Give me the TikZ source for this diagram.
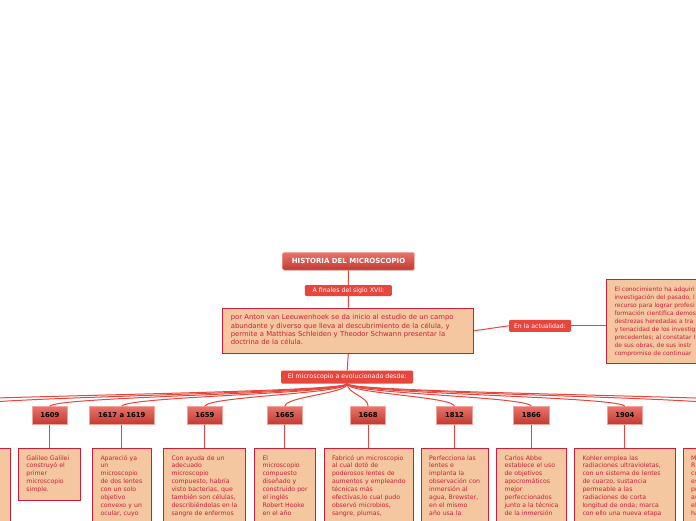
\documentclass[tikz,border=0pt]{standalone}
\usepackage{fontspec}
\setmainfont{DejaVu Sans}
\usetikzlibrary{shadows}
\definecolor{peach}{HTML}{F4C7A0}
\definecolor{crim}{HTML}{C8203C}
\definecolor{txt}{HTML}{C8203A}
\definecolor{lbl}{HTML}{E8453C}
\definecolor{con}{HTML}{E8453C}
\definecolor{gtop}{HTML}{E8736A}
\definecolor{gbot}{HTML}{C23A30}
\definecolor{gedge}{HTML}{F2A39C}
\newcommand{\txtlines}[1]{\begin{tabular}{@{}l@{}}#1\end{tabular}}
\begin{document}
\begin{tikzpicture}[x=1pt,y=-1pt,
  conn/.style={draw=con, line width=1pt},
  vconn/.style={draw=con, line width=0.9pt},
  lblbox/.style={fill=lbl, text=white, rounded corners=1.2pt, inner sep=0pt,
    font=\fontsize{6.3}{7}\selectfont},
  yearbox/.style={top color=gtop, bottom color=gbot, draw=gedge, line width=0.5pt,
    inner sep=0pt, minimum height=17.6pt, text=black, font=\bfseries\fontsize{6.8}{7}\selectfont},
  titlebox/.style={top color=gtop, bottom color=gbot, draw=gedge, line width=0.5pt,
    rounded corners=1.2pt, inner sep=0pt, text=white, font=\bfseries\fontsize{7}{8}\selectfont,
    drop shadow={shadow xshift=0.8pt, shadow yshift=-0.8pt, opacity=0.25}},
  detail/.style={draw=crim, line width=1pt, fill=peach, anchor=north west,
    inner xsep=8pt, inner ysep=6pt, align=left, text=txt,
    font=\fontsize{6.2}{7.9}\selectfont},
  bigbox/.style={draw=crim, line width=1pt, fill=peach, align=left, text=txt,
    inner sep=0pt, font=\fontsize{6.85}{8.3}\selectfont}
]
\useasboundingbox (0,0) rectangle (696,520);
\clip (0,0) rectangle (696,520);

% top chain
\node[titlebox, minimum width=131.6pt, minimum height=17.7pt] (title) at (348.5,261.2) {HISTORIA DEL MICROSCOPIO};
\node[lblbox, minimum width=87pt, minimum height=11pt] (afin) at (348.4,290.5) {A finales del siglo XVII:};
\node[bigbox, minimum width=251pt, minimum height=45pt, text width=235pt] (big) at (348.3,330.7)
 {\txtlines{por Anton van Leeuwenhoek se da inicio al estudio de un campo\\
  abundante y diverso que lleva al descubrimiento de la célula, y\\
  permite a Matthias Schleiden y Theodor Schwann presentar la\\
  doctrina de la célula.}};
\node[lblbox, minimum width=62pt, minimum height=12pt, font=\fontsize{6.2}{7}\selectfont] (actual) at (540,325.8) {En la actualidad:};
\node[detail, text width=200pt, inner ysep=6pt, font=\fontsize{6}{8}\selectfont] (right) at (606,279)
 {\txtlines{El conocimiento ha adquiri\\
  investigación del pasado, l\\
  recurso para lograr profesi\\
  formación científica demos\\
  destrezas heredadas a tra\\
  y tenacidad de los investig\\
  precedentes; al constatar l\\
  de sus obras, de sus instr\\
  compromiso de continuar}};
\node[lblbox, minimum width=132pt, minimum height=13pt] (evol) at (347.2,377) {El microscopio a evolucionado desde:};

\draw[conn] (title.south) -- (afin.north);
\draw[conn] (afin.south) -- (big.north);
\draw[conn] (big.south) -- (evol.north);
\draw[conn] (big.east) -- (actual.west);
\draw[conn] (actual.east) -- (right.west |- actual.east);

% year nodes
\node[yearbox, minimum width=35pt] (y1609) at (49.8,415.5) {1609};
\node[yearbox, minimum width=65pt] (y1617) at (121.8,415.5) {1617 a 1619};
\node[yearbox, minimum width=35pt] (y1659) at (204.8,415.5) {1659};
\node[yearbox, minimum width=35pt] (y1665) at (284.8,415.5) {1665};
\node[yearbox, minimum width=35pt] (y1668) at (368.2,415.5) {1668};
\node[yearbox, minimum width=35.6pt] (y1812) at (454.5,415.5) {1812};
\node[yearbox, minimum width=36pt] (y1866) at (531.3,415.5) {1866};
\node[yearbox, minimum width=35pt] (y1904) at (624.8,415.5) {1904};
\coordinate (offL1) at (-40,406.7);
\coordinate (offL2) at (-150,406.7);
\coordinate (offR1) at (735,406.7);
\coordinate (offR2) at (840,406.7);

\foreach \c in {y1609,y1617,y1659,y1665,y1668,y1812,y1866,y1904}
  \draw[conn] (evol.south) .. controls +(0,10) and +(0,-10) .. (\c.north);
\foreach \c in {offL1,offL2,offR1,offR2}
  \draw[conn] (evol.south) .. controls +(0,10) and +(0,-10) .. (\c);

% detail boxes
\node[detail, minimum width=70pt, minimum height=90pt, text width=54pt] (dL) at (-60,448) {};
\node[detail, text width=46pt] (d1609) at (18,448)
 {\txtlines{Galileo Galilei\\construyó el\\primer\\microscopio\\simple.}};
\node[detail, text width=43pt] (d1617) at (92,448)
 {\txtlines{Apareció ya\\un\\microscopio\\de dos lentes\\con un solo\\objetivo\\convexo y un\\ocular, cuyo}};
\node[detail, text width=66pt] (d1659) at (163,448)
 {\txtlines{Con ayuda de un\\adecuado\\microscopio\\compuesto, habría\\visto bacterias, que\\también son células,\\describiéndolas en la\\sangre de enfermos}};
\node[detail, text width=45pt] (d1665) at (254,448)
 {\txtlines{El\\microscopio\\compuesto\\diseñado y\\construido por\\el inglés\\Robert Hooke\\en el año}};
\node[detail, text width=73pt] (d1668) at (323.5,448)
 {\txtlines{Fabricó un microscopio\\al cual dotó de\\poderosos lentes de\\aumentos y empleando\\técnicas más\\efectivas,lo cual pudo\\observó microbios,\\sangre, plumas,}};
\node[detail, text width=51pt] (d1812) at (420.7,448)
 {\txtlines{Perfecciona las\\lentes e\\implanta la\\observación con\\inmersión al\\agua, Brewster,\\en el mismo\\año usa la}};
\node[detail, text width=53.5pt] (d1866) at (496,448)
 {\txtlines{Carlos Abbe\\establece el uso\\de objetivos\\apocromáticos\\mejor\\perfeccionados\\junto a la técnica\\de la inmersión}};
\node[detail, text width=84.5pt] (d1904) at (574,448)
 {\txtlines{Kohler emplea las\\radiaciones ultravioletas,\\con un sistema de lentes\\de cuarzo, sustancia\\permeable a las\\radiaciones de corta\\longitud de onda; marca\\con ello una nueva etapa}};
\node[detail, text width=60pt] (dR) at (682.7,448)
 {\txtlines{M\\R\\co\\es\\pr\\au\\el\\ha}};

\foreach \y/\d in {y1609/d1609,y1617/d1617,y1659/d1659,y1665/d1665,y1668/d1668,y1812/d1812,y1866/d1866,y1904/d1904}
  \draw[vconn] (\y.south) -- (\y.south |- \d.north);
\end{tikzpicture}
\end{document}
